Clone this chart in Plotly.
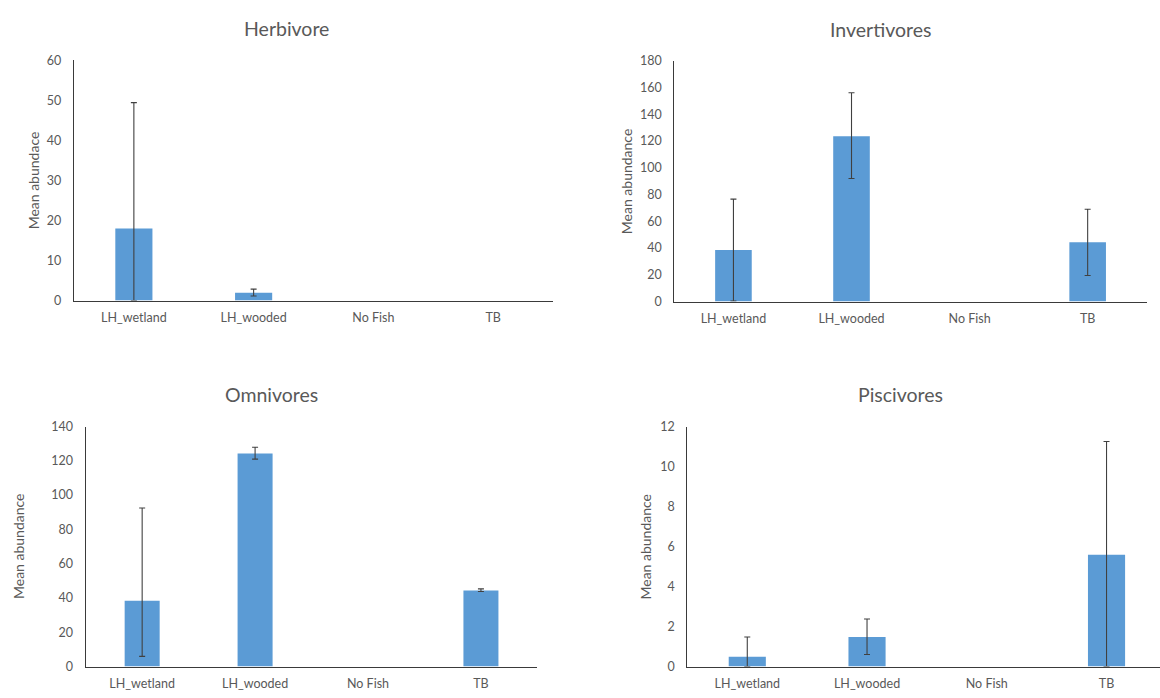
import plotly.graph_objects as go

categories = ["LH_wetland", "LH_wooded", "No Fish", "TB"]

herb_mean = [18.0, 1.95, 0, 0]
herb_err_plus = [31.4, 0.9, 0, 0]
herb_err_minus = [18.0, 0.8, 0, 0]

inv_mean = [38.5, 123.6, 0, 44.4]
inv_err_plus = [38.1, 32.5, 0, 24.6]
inv_err_minus = [38.1, 31.6, 0, 24.9]

omn_mean = [38.4, 124.2, 0, 44.3]
omn_err_plus = [54.1, 3.7, 0, 1.0]
omn_err_minus = [32.5, 3.2, 0, 0.5]

pis_mean = [0.49, 1.48, 0, 5.59]
pis_err_plus = [0.99, 0.9, 0, 5.66]
pis_err_minus = [0.49, 0.88, 0, 5.59]

titles = ["Herbivore", "Invertivores", "Omnivores", "Piscivores"]
ylabels = ["Mean abundace", "Mean abundance", "Mean abundance", "Mean abundance"]
yranges = [(0, 60, 10), (0, 180, 20), (0, 140, 20), (0, 12, 2)]

W, H = 1160, 698
BAR = "#5B9BD5"
TXT = "#595959"
FONT = "Lato"

# pixel boxes: (left, right, top, bottom)
boxes = [(74, 553, 53.3, 299), (674.4, 1146.7, 54, 300),
         (85.7, 537.4, 427.7, 673), (687.4, 1166.4, 427.7, 673)]
title_pos = [(286.5, 21), (880, 22), (271.5, 395), (900, 395)]
ylab_x = [33, 626, 18.5, 646]

series = [(herb_mean, herb_err_plus, herb_err_minus),
          (inv_mean, inv_err_plus, inv_err_minus),
          (omn_mean, omn_err_plus, omn_err_minus),
          (pis_mean, pis_err_plus, pis_err_minus)]

fig = go.Figure()
annotations = []
layout = {}
for i, ((m, ep, em), box) in enumerate(zip(series, boxes)):
    n = "" if i == 0 else str(i + 1)
    # bars with a value of zero are drawn but show nothing (no bar, no error bar)
    shown = [k for k, v in enumerate(m) if v != 0]
    fig.add_trace(go.Bar(
        x=categories, y=m, width=0.31, marker=dict(color=BAR, line=dict(width=0)),
        xaxis="x" + n, yaxis="y" + n, showlegend=False, hoverinfo="x+y"))
    fig.add_trace(go.Bar(
        x=[categories[k] for k in shown], y=[m[k] for k in shown], width=0.31,
        marker=dict(color="rgba(0,0,0,0)", line=dict(width=0)),
        error_y=dict(type="data", symmetric=False, array=[ep[k] for k in shown],
                     arrayminus=[em[k] for k in shown],
                     color="#404040", thickness=1.1, width=3),
        xaxis="x" + n, yaxis="y" + n, showlegend=False, hoverinfo="skip"))
    l, r, t, b = box
    xr_end = 3.5
    right = r
    if r > W:
        # axis runs off the right edge of the picture
        per = (r - l) / 4.0
        right = W
        xr_end = -0.5 + (W - l) / per
    lo, hi, dt = yranges[i]
    layout["xaxis" + n] = dict(
        domain=[l / W, right / W], anchor="y" + n, type="category",
        categoryorder="array", categoryarray=categories,
        range=[-0.5, xr_end], showline=True, linecolor="#3a3a3a", linewidth=1.3,
        ticks="outside", ticklen=5, tickcolor="rgba(0,0,0,0)",
        tickfont=dict(family=FONT, size=12.5, color=TXT), showgrid=False, zeroline=False)
    layout["yaxis" + n] = dict(
        domain=[1 - b / H, 1 - t / H], anchor="x" + n, range=[lo, hi], dtick=dt,
        showline=True, linecolor="#3a3a3a", linewidth=1.3,
        ticks="outside", ticklen=9, tickcolor="rgba(0,0,0,0)",
        tickfont=dict(family=FONT, size=12.5, color=TXT), showgrid=False, zeroline=False)
    tx, ty = title_pos[i]
    annotations.append(dict(text=titles[i], x=tx / W, y=1 - ty / H, xref="paper", yref="paper",
                            showarrow=False, xanchor="center", yanchor="middle",
                            font=dict(family=FONT, size=19.5, color=TXT)))
    annotations.append(dict(text=ylabels[i], x=ylab_x[i] / W, y=1 - (t + b) / 2 / H,
                            xref="paper", yref="paper", showarrow=False, textangle=-90,
                            xanchor="center", yanchor="middle",
                            font=dict(family=FONT, size=14, color=TXT)))

fig.update_layout(width=W, height=H, margin=dict(l=0, r=0, t=0, b=0),
                  paper_bgcolor="white", plot_bgcolor="white", barmode="overlay",
                  annotations=annotations, **layout)
fig.write_html("out.html", config={"displayModeBar": False},
               post_script="document.body.style.margin='0';document.body.style.padding='0';"
                           "document.body.style.overflow='hidden';")
